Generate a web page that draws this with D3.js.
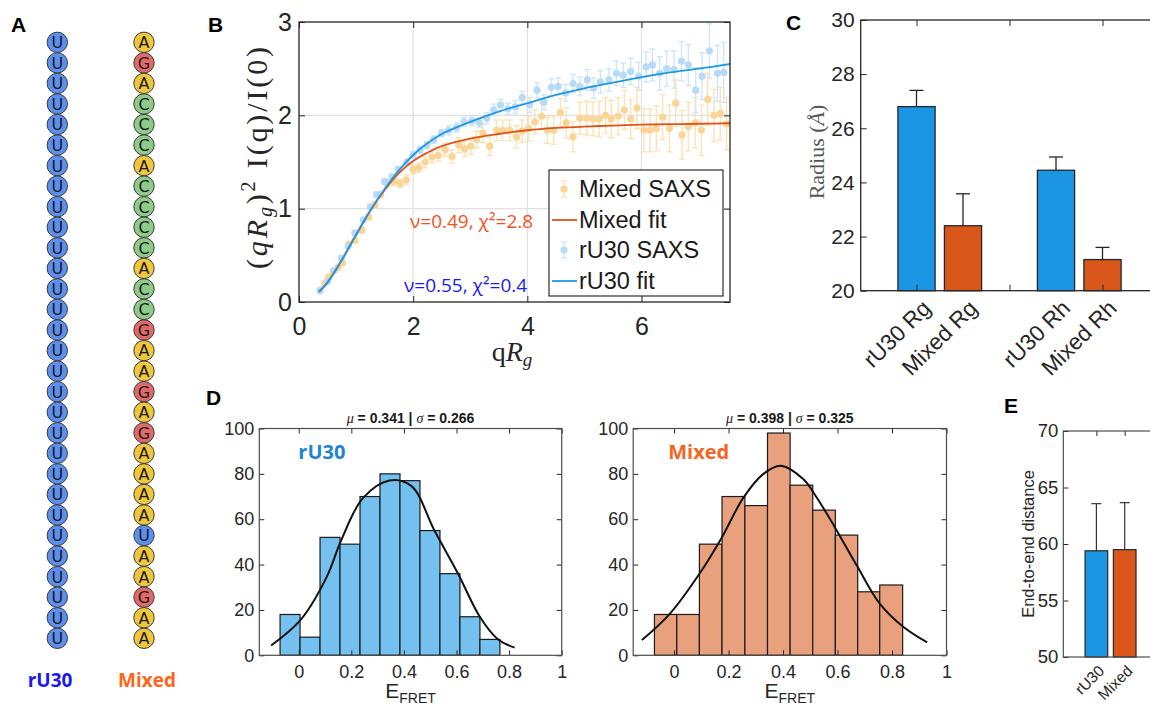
<!DOCTYPE html>
<html><head><meta charset="utf-8">
<script src="https://cdn.jsdelivr.net/npm/d3@7"></script>
<style>body{margin:0;background:#fff}svg{display:block}</style>
</head><body>
<svg id="fig" width="1150" height="706"></svg>
<script>
// ---------------- DATA ----------------
// Panel A: sequences
const ru30Seq = "UUUUUUUUUUUUUUUUUUUUUUUUUUUUUU".split("");
const mixedSeq = ["A","G","A","C","C","C","A","C","C","C","C","A","C","C","G","A","A","G","A","G","A","A","A","A","U","A","A","G","A","A"];

// Panel B: SAXS Kratky data
const mixedQ = [0.37,0.45,0.52,0.60,0.68,0.76,0.87,0.98,1.10,1.22,1.33,1.43,1.54,1.66,1.77,1.88,2.00,2.10,2.21,2.33,2.44,2.56,2.68,2.80,2.90,3.01,3.11,3.22,3.34,3.46,3.57,3.69,3.81,3.91,4.02,4.13,4.25,4.35,4.46,4.58,4.68,4.80,4.92,5.04,5.15,5.26,5.37,5.47,5.59,5.70,5.81,5.92,6.04,6.15,6.26,6.37,6.49,6.60,6.71,6.82,6.94,7.05,7.16,7.27,7.38,7.49];
const mixedI = [0.13,0.20,0.27,0.33,0.37,0.42,0.62,0.66,0.77,0.91,1.04,1.15,1.27,1.29,1.27,1.31,1.42,1.44,1.50,1.55,1.57,1.63,1.56,1.68,1.64,1.67,1.74,1.81,1.67,1.84,1.84,1.84,1.77,1.83,1.86,1.93,1.99,1.84,1.84,2.03,1.92,1.77,1.97,1.97,1.96,1.96,2.00,1.96,1.99,2.06,1.96,2.08,1.84,1.84,1.86,1.98,1.86,2.13,1.79,1.88,1.92,1.84,2.17,2.00,2.02,1.91];
const mixedErr = [0.02,0.02,0.02,0.02,0.02,0.02,0.02,0.02,0.03,0.03,0.03,0.03,0.04,0.04,0.04,0.05,0.05,0.05,0.06,0.06,0.06,0.07,0.07,0.08,0.08,0.09,0.09,0.10,0.10,0.11,0.11,0.11,0.12,0.12,0.13,0.13,0.14,0.14,0.15,0.15,0.16,0.16,0.17,0.18,0.18,0.19,0.19,0.20,0.20,0.21,0.21,0.22,0.23,0.23,0.24,0.24,0.25,0.25,0.26,0.26,0.27,0.27,0.28,0.28,0.28,0.28];
const ru30Q = [0.37,0.50,0.62,0.74,0.86,0.98,1.13,1.25,1.36,1.50,1.63,1.74,1.89,2.00,2.12,2.24,2.36,2.50,2.62,2.76,2.89,3.03,3.16,3.29,3.41,3.53,3.66,3.79,3.91,4.04,4.17,4.29,4.42,4.54,4.67,4.80,4.92,5.05,5.16,5.28,5.43,5.56,5.68,5.81,5.95,6.08,6.19,6.32,6.44,6.57,6.70,6.82,6.95,7.06,7.19,7.33,7.44];
const ru30I = [0.12,0.22,0.34,0.47,0.60,0.74,0.88,1.02,1.15,1.29,1.34,1.42,1.50,1.575,1.63,1.68,1.74,1.81,1.84,1.87,1.93,1.94,1.92,1.97,2.06,2.11,2.07,2.09,2.19,2.11,2.27,2.14,2.30,2.31,2.24,2.34,2.31,2.38,2.29,2.36,2.38,2.45,2.43,2.47,2.42,2.52,2.54,2.45,2.50,2.49,2.58,2.54,2.27,2.42,2.69,2.45,2.46];
const ru30Err = [0.02,0.02,0.02,0.02,0.02,0.02,0.02,0.02,0.03,0.03,0.03,0.03,0.03,0.04,0.04,0.04,0.04,0.04,0.05,0.05,0.05,0.05,0.05,0.06,0.06,0.06,0.06,0.07,0.07,0.08,0.08,0.08,0.09,0.09,0.09,0.10,0.10,0.11,0.11,0.12,0.12,0.13,0.13,0.14,0.15,0.16,0.17,0.18,0.19,0.20,0.21,0.22,0.24,0.25,0.29,0.30,0.32];
const fitQ = [0.35,0.5,0.75,1.0,1.25,1.5,1.75,2.0,2.25,2.5,3.0,3.5,4.0,4.5,5.0,5.5,6.0,6.5,7.0,7.55];
const mixedFit = [0.11,0.21,0.45,0.72,0.98,1.20,1.38,1.51,1.60,1.67,1.75,1.80,1.84,1.865,1.88,1.89,1.90,1.905,1.91,1.915];
const ru30Fit  = [0.11,0.21,0.45,0.72,0.98,1.21,1.41,1.575,1.70,1.80,1.93,2.04,2.13,2.22,2.29,2.35,2.41,2.46,2.50,2.55];
const bXTicks = [0,2,4,6];
const bYTicks = [0,1,2,3];
const legendB = ["Mixed SAXS","Mixed fit","rU30 SAXS","rU30 fit"];

// Panel C: radii
const cLabels = ["rU30 Rg","Mixed Rg","rU30 Rh","Mixed Rh"];
const cPos = [1,1.5,2.5,3];
const cVals = [26.8,22.4,24.45,21.15];
const cErr = [0.6,1.18,0.49,0.45];
const cYTicks = [20,22,24,26,28,30];
const cXTicks = [1,2,3];

// Panel D: FRET histograms
const dXTicks = [0,0.2,0.4,0.6,0.8,1];
const dYTicks = [0,20,40,60,80,100];
const ru30Edges = [-0.071,0.005,0.081,0.157,0.233,0.309,0.385,0.461,0.537,0.613,0.689,0.765];
const ru30Counts = [18,8,52,49,70,80,77,55,36,17,7];
const ru30CurveX = [-0.105,0.007,0.107,0.162,0.244,0.345,0.428,0.516,0.605,0.688,0.757,0.821];
const ru30CurveY = [4.3,15.6,34.7,50.9,69.3,77.1,74.7,55.0,36.2,17.1,7.1,3.4];
const mixedEdges = [-0.072,0.010,0.093,0.176,0.260,0.343,0.426,0.509,0.592,0.674,0.755,0.839];
const mixedCounts = [18,18,49,70,66,98,75,64,53,28,31];
const mixedCurveX = [-0.118,-0.015,0.095,0.176,0.254,0.327,0.391,0.474,0.523,0.590,0.674,0.755,0.841,0.929];
const mixedCurveY = [6.7,18.4,36.3,52.1,69.4,79.9,83.6,77.7,69.7,56.5,38.9,22.8,12.6,5.7];

// Panel E: end-to-end distance
const eLabels = ["rU30","Mixed"];
const eVals = [59.4,59.5];
const eErr = [4.17,4.16];
const eYTicks = [50,55,60,65,70];

// ---------------- DRAWING ----------------
const svg = d3.select("#fig");
svg.append("rect").attr("width",1150).attr("height",706).attr("fill","#fff");
const SANS = "'Liberation Sans', Arial, sans-serif";
const SERIF = "'Liberation Serif', 'Times New Roman', serif";
const CAL = "'Open Sans', 'Noto Sans', sans-serif";
const AX = "#262626";

function panelLabel(t,x,y){
  svg.append("text").attr("x",x).attr("y",y).text(t)
    .style("font-family",SANS).style("font-weight","bold").style("font-size","21px").attr("fill","#000");
}
function styleAxis(g, fs){
  g.select(".domain").remove();
  g.selectAll(".tick line").attr("stroke",AX);
  g.selectAll(".tick text").style("font-family",SANS).style("font-size",fs+"px").attr("fill",AX);
}
function box(x0,y0,x1,y1,color,w){
  svg.append("rect").attr("x",x0).attr("y",y0).attr("width",x1-x0).attr("height",y1-y0)
    .attr("fill","none").attr("stroke",color||AX).attr("stroke-width",w||1.2);
}

// ---- Panel A ----
panelLabel("A",11,32);
const colA = {A:"#efc73b",G:"#e26967",C:"#8ccb88",U:"#5d8fee"};
const yA = d3.scaleLinear().domain([0,29]).range([42.3,638.3]);
[[ru30Seq,57.3],[mixedSeq,144]].forEach(([seq,cx])=>{
  const g = svg.append("g");
  const nodes = g.selectAll("g").data(seq).join("g").attr("transform",(d,i)=>`translate(${cx},${yA(i)})`);
  nodes.append("circle").attr("r",10.2).attr("fill",d=>colA[d]).attr("stroke","#3a3a3a").attr("stroke-width",1);
  nodes.append("text").text(d=>d).attr("text-anchor","middle").attr("dy","0.37em")
    .style("font-family","'DejaVu Sans', sans-serif").style("font-size","16px").attr("fill","#1a1a1a");
});
svg.append("text").attr("x",50).attr("y",687).attr("text-anchor","middle").text("rU30")
  .style("font-family",CAL).style("font-weight","bold").style("font-size","19px").attr("fill","#1818f0");
svg.append("text").attr("x",147).attr("y",687).attr("text-anchor","middle").text("Mixed")
  .style("font-family",CAL).style("font-weight","bold").style("font-size","19px").attr("fill","#ff651a");

// ---- Panel B ----
panelLabel("B",208,32);
const xB = d3.scaleLinear().domain([0,7.55]).range([299,730]);
const yB = d3.scaleLinear().domain([0,3]).range([302,22]);
const gB = svg.append("g");
gB.append("clipPath").attr("id","clipB").append("rect").attr("x",299).attr("y",22).attr("width",431).attr("height",280);
// grid
gB.selectAll(".gx").data(bXTicks.slice(1)).join("line").attr("x1",d=>xB(d)).attr("x2",d=>xB(d)).attr("y1",22).attr("y2",302).attr("stroke","#e0e0e0").attr("stroke-width",1.2);
gB.selectAll(".gy").data(bYTicks.slice(1,3)).join("line").attr("y1",d=>yB(d)).attr("y2",d=>yB(d)).attr("x1",299).attr("x2",730).attr("stroke","#e0e0e0").attr("stroke-width",1.2);

function errSeries(qs,ys,es,ptCol,barCol){
  const g = gB.append("g").attr("clip-path","url(#clipB)");
  const d = qs.map((q,i)=>({q,y:ys[i],e:es[i]}));
  const s = g.selectAll("g").data(d).join("g");
  s.append("line").attr("x1",p=>xB(p.q)).attr("x2",p=>xB(p.q)).attr("y1",p=>yB(p.y+p.e)).attr("y2",p=>yB(p.y-p.e)).attr("stroke",barCol).attr("stroke-width",1.4);
  s.append("line").attr("x1",p=>xB(p.q)-3).attr("x2",p=>xB(p.q)+3).attr("y1",p=>yB(p.y+p.e)).attr("y2",p=>yB(p.y+p.e)).attr("stroke",barCol).attr("stroke-width",1.4);
  s.append("line").attr("x1",p=>xB(p.q)-3).attr("x2",p=>xB(p.q)+3).attr("y1",p=>yB(p.y-p.e)).attr("y2",p=>yB(p.y-p.e)).attr("stroke",barCol).attr("stroke-width",1.4);
  s.append("circle").attr("cx",p=>xB(p.q)).attr("cy",p=>yB(p.y)).attr("r",3.6).attr("fill",ptCol);
}
errSeries(mixedQ,mixedI,mixedErr,"#fbd596","#fde2b6");
errSeries(ru30Q,ru30I,ru30Err,"#b7daf6","#cfe6f9");
const lineB = d3.line().x(d=>xB(d[0])).y(d=>yB(d[1])).curve(d3.curveCatmullRom);
gB.append("path").attr("d",lineB(fitQ.map((q,i)=>[q,mixedFit[i]]))).attr("fill","none").attr("stroke","#e0541c").attr("stroke-width",1.8);
gB.append("path").attr("d",lineB(fitQ.map((q,i)=>[q,ru30Fit[i]]))).attr("fill","none").attr("stroke","#1e98e3").attr("stroke-width",1.8);

// axes
let a;
a = gB.append("g").attr("transform","translate(0,302)").call(d3.axisBottom(xB).tickValues(bXTicks).tickSize(-6).tickPadding(15).tickFormat(d3.format("d"))); styleAxis(a,25);
a = gB.append("g").attr("transform","translate(299,0)").call(d3.axisLeft(yB).tickValues(bYTicks).tickSize(-6).tickPadding(7).tickFormat(d3.format("d"))); styleAxis(a,25);
a = gB.append("g").attr("transform","translate(0,22)").call(d3.axisTop(xB).tickValues(bXTicks).tickSize(-6).tickFormat("")); styleAxis(a,25);
a = gB.append("g").attr("transform","translate(730,0)").call(d3.axisRight(yB).tickValues(bYTicks).tickSize(-6).tickFormat("")); styleAxis(a,25);
box(299,22,730,302,AX,1.3);

// annotations
gB.append("text").attr("x",410).attr("y",228).text("ν=0.49, χ²=2.8").style("font-family",CAL).style("font-size","19px").attr("fill","#f4521c");
gB.append("text").attr("x",404).attr("y",292).text("ν=0.55, χ²=0.4").style("font-family",CAL).style("font-size","19px").attr("fill","#1a1af5");

// legend
const lg = gB.append("g");
lg.append("rect").attr("x",549).attr("y",170).attr("width",174).attr("height",126).attr("fill","#fff").attr("stroke","#1a1a1a").attr("stroke-width",1.1);
const legY = [189,220,250,281];
const legCols = [["#fbd596","#fde2b6"],["#e0541c"],["#b7daf6","#cfe6f9"],["#1e98e3"]];
legendB.forEach((t,i)=>{
  const yy = legY[i];
  if(i%2===0){
    lg.append("line").attr("x1",564).attr("x2",564).attr("y1",yy-8).attr("y2",yy+8).attr("stroke",legCols[i][1]).attr("stroke-width",1.4);
    lg.append("line").attr("x1",561).attr("x2",567).attr("y1",yy-8).attr("y2",yy-8).attr("stroke",legCols[i][1]).attr("stroke-width",1.4);
    lg.append("line").attr("x1",561).attr("x2",567).attr("y1",yy+8).attr("y2",yy+8).attr("stroke",legCols[i][1]).attr("stroke-width",1.4);
    lg.append("circle").attr("cx",564).attr("cy",yy).attr("r",3.6).attr("fill",legCols[i][0]);
  } else {
    lg.append("line").attr("x1",552).attr("x2",577).attr("y1",yy).attr("y2",yy).attr("stroke",legCols[i][0]).attr("stroke-width",1.8);
  }
  lg.append("text").attr("x",579).attr("y",yy).attr("dy","0.36em").text(t).style("font-family",SANS).style("font-size","23.5px").attr("fill","#1a1a1a");
});

// axis labels
const ylB = gB.append("text").attr("transform","translate(267,158) rotate(-90)").attr("text-anchor","middle")
  .attr("textLength",222).attr("lengthAdjust","spacing")
  .style("font-family",SERIF).style("font-size","30px").attr("fill","#262626");
ylB.append("tspan").text("(");
ylB.append("tspan").style("font-style","italic").text("qR");
ylB.append("tspan").style("font-style","italic").style("font-size","20px").attr("dy",5).text("g");
ylB.append("tspan").attr("dy",-5).text(")");
ylB.append("tspan").style("font-size","20px").attr("dy",-12).text("2");
ylB.append("tspan").attr("dy",12).text(" I(q)/I(0)");
const xlB = gB.append("text").attr("x",512).attr("y",361).attr("text-anchor","middle")
  .style("font-family",SERIF).style("font-size","28px").attr("fill","#262626");
xlB.append("tspan").text("q");
xlB.append("tspan").style("font-style","italic").text("R");
xlB.append("tspan").style("font-style","italic").style("font-size","19px").attr("dy",5).text("g");

// ---- Panel C ----
panelLabel("C",786,30);
const xC = d3.scaleLinear().domain([0.4,3.6]).range([860.7,1158.3]);
const yC = d3.scaleLinear().domain([20,30]).range([290.7,20]);
const gC = svg.append("g");
const cColors = ["#1b96e4","#d9571b","#1b96e4","#d9571b"];
const bw = 0.4;
gC.selectAll("rect.bar").data(cVals).join("rect")
  .attr("x",(d,i)=>xC(cPos[i]-bw/2)).attr("width",xC(bw)-xC(0))
  .attr("y",d=>yC(d)).attr("height",d=>yC(20)-yC(d))
  .attr("fill",(d,i)=>cColors[i]).attr("stroke","#262626").attr("stroke-width",1.3);
cVals.forEach((v,i)=>{
  const cx = xC(cPos[i]);
  gC.append("line").attr("x1",cx).attr("x2",cx).attr("y1",yC(v)).attr("y2",yC(v+cErr[i])).attr("stroke","#262626").attr("stroke-width",1.3);
  gC.append("line").attr("x1",cx-7).attr("x2",cx+7).attr("y1",yC(v+cErr[i])).attr("y2",yC(v+cErr[i])).attr("stroke","#262626").attr("stroke-width",1.3);
});
a = gC.append("g").attr("transform","translate(860.7,0)").call(d3.axisLeft(yC).tickValues(cYTicks).tickSize(-6).tickPadding(6)); styleAxis(a,21);
a = gC.append("g").attr("transform","translate(0,20)").call(d3.axisTop(xC).tickValues(cXTicks).tickSize(-6).tickFormat("")); styleAxis(a,21);
a = gC.append("g").attr("transform","translate(0,290.7)").call(d3.axisBottom(xC).tickValues(cXTicks).tickSize(-6).tickFormat("")); styleAxis(a,21);
box(860.7,20,1158.3,290.7,AX,1.3);
cLabels.forEach((t,i)=>{
  gC.append("text").attr("transform",`translate(${xC(cPos[i])+10},${304}) rotate(-45)`).attr("text-anchor","end").attr("dy","0.35em")
    .text(t).style("font-family",SANS).style("font-size","22.5px").attr("fill","#262626");
});
const ylC = gC.append("text").attr("transform","translate(824,152) rotate(-90)").attr("text-anchor","middle")
  .style("font-family",SERIF).style("font-size","22px").attr("fill","#555");
ylC.append("tspan").text("Radius (");
ylC.append("tspan").style("font-style","italic").text("Å");
ylC.append("tspan").text(")");

// ---- Panel D ----
panelLabel("D",206,405);
function histPanel(x0,x1,edges,counts,cx,cy,fill,title,name,nameCol){
  const x = d3.scaleLinear().domain([-0.15,1]).range([x0,x1]);
  const y = d3.scaleLinear().domain([0,100]).range([655.3,428.5]);
  const g = svg.append("g");
  g.selectAll("rect").data(counts).join("rect")
    .attr("x",(d,i)=>x(edges[i])).attr("width",(d,i)=>x(edges[i+1])-x(edges[i]))
    .attr("y",d=>y(d)).attr("height",d=>y(0)-y(d))
    .attr("fill",fill).attr("stroke","#1a1a1a").attr("stroke-width",1.2);
  const ln = d3.line().x(d=>x(d[0])).y(d=>y(d[1])).curve(d3.curveCatmullRom);
  g.append("path").attr("d",ln(cx.map((v,i)=>[v,cy[i]]))).attr("fill","none").attr("stroke","#111").attr("stroke-width",2);
  let ax;
  ax = g.append("g").attr("transform","translate(0,655.3)").call(d3.axisBottom(x).tickValues(dXTicks).tickSize(-5).tickPadding(10).tickFormat(d=>d3.format("~g")(d))); styleAxis(ax,18);
  ax = g.append("g").attr("transform",`translate(${x0},0)`).call(d3.axisLeft(y).tickValues(dYTicks).tickSize(-5).tickPadding(5)); styleAxis(ax,18);
  ax = g.append("g").attr("transform","translate(0,428.5)").call(d3.axisTop(x).tickValues(dXTicks).tickSize(-5).tickFormat("")); styleAxis(ax,18);
  ax = g.append("g").attr("transform",`translate(${x1},0)`).call(d3.axisRight(y).tickValues(dYTicks).tickSize(-5).tickFormat("")); styleAxis(ax,18);
  g.append("rect").attr("x",x0).attr("y",428.5).attr("width",x1-x0).attr("height",655.3-428.5).attr("fill","none").attr("stroke","#4d4d4d").attr("stroke-width",1.2);
  const t = g.append("text").attr("x",(x0+x1)/2).attr("y",423).attr("text-anchor","middle").style("font-family",SANS).style("font-size","14px").style("font-weight","bold").attr("fill","#1a1a1a");
  t.append("tspan").style("font-family",SERIF).style("font-style","italic").style("font-weight","normal").text("μ");
  t.append("tspan").text(" = " + title[0] + " | ");
  t.append("tspan").style("font-family",SERIF).style("font-style","italic").style("font-weight","normal").text("σ");
  t.append("tspan").text(" = " + title[1]);
  g.append("text").attr("x",x(-0.15)+ (name==="rU30"?39:35)).attr("y",459).text(name)
    .style("font-family",CAL).style("font-weight","bold").style("font-size","20px").attr("fill",nameCol);
  const xl = g.append("text").attr("x",(x0+x1)/2).attr("y",698).attr("text-anchor","middle").style("font-family",SANS).style("font-size","21px").attr("fill","#262626");
  xl.append("tspan").text("E");
  xl.append("tspan").attr("dy",5).style("font-size","14px").text("FRET");
}
histPanel(259.3,561.7,ru30Edges,ru30Counts,ru30CurveX,ru30CurveY,"#74c0ef",["0.341","0.266"],"rU30","#2283d6");
histPanel(633.2,946.5,mixedEdges,mixedCounts,mixedCurveX,mixedCurveY,"#e9a07c",["0.398","0.325"],"Mixed","#f5651f");

// ---- Panel E ----
panelLabel("E",1004,413);
const xE = d3.scaleLinear().domain([-0.17,3.17]).range([1063.3,1157.8]);
const yE = d3.scaleLinear().domain([50,70]).range([657,431]);
const gE = svg.append("g");
const eColors = ["#1b96e4","#d9571b"];
gE.selectAll("rect").data(eVals).join("rect")
  .attr("x",(d,i)=>xE(i+1-0.4)).attr("width",xE(0.8)-xE(0))
  .attr("y",d=>yE(d)).attr("height",d=>yE(50)-yE(d))
  .attr("fill",(d,i)=>eColors[i]).attr("stroke","#262626").attr("stroke-width",1.2);
eVals.forEach((v,i)=>{
  const cx = xE(i+1);
  gE.append("line").attr("x1",cx).attr("x2",cx).attr("y1",yE(v)).attr("y2",yE(v+eErr[i])).attr("stroke","#333").attr("stroke-width",1.2);
  gE.append("line").attr("x1",cx-5).attr("x2",cx+5).attr("y1",yE(v+eErr[i])).attr("y2",yE(v+eErr[i])).attr("stroke","#333").attr("stroke-width",1.2);
});
a = gE.append("g").attr("transform","translate(1063.3,0)").call(d3.axisLeft(yE).tickValues(eYTicks).tickSize(-5).tickPadding(5)); styleAxis(a,18.5);
a = gE.append("g").attr("transform","translate(0,431)").call(d3.axisTop(xE).tickValues([1,2]).tickSize(-5).tickFormat("")); styleAxis(a,18);
gE.append("rect").attr("x",1063.3).attr("y",431).attr("width",120).attr("height",226).attr("fill","none").attr("stroke","#4d4d4d").attr("stroke-width",1.2);
eLabels.forEach((t,i)=>{
  gE.append("text").attr("transform",`translate(${xE(i+1)+5},${668}) rotate(-45)`).attr("text-anchor","end").attr("dy","0.35em")
    .text(t).style("font-family",SANS).style("font-size","15.5px").attr("fill","#262626");
});
gE.append("text").attr("transform","translate(1034,544) rotate(-90)").attr("text-anchor","middle").text("End-to-end distance")
  .style("font-family",SANS).style("font-size","16.5px").attr("fill","#262626");
</script>
</body></html>
